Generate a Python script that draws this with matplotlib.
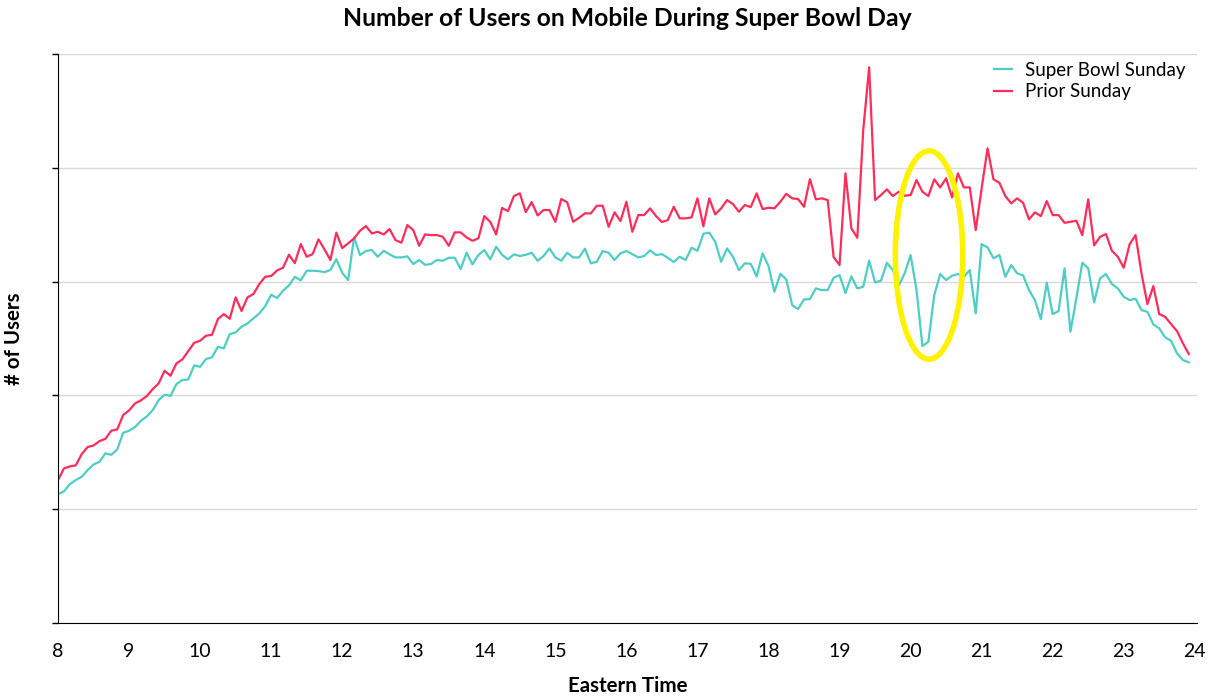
import matplotlib
matplotlib.use("Agg")
import matplotlib.pyplot as plt
import numpy as np
from matplotlib.patches import Ellipse

plt.rcParams['font.family'] = ['Lato', 'DejaVu Sans']

# 5-minute samples from 8:00 to 23:55 (192 points)
hours = 8 + np.arange(192) * 5 / 60

super_bowl = [
    1134, 1157, 1221, 1257, 1286, 1344, 1394, 1417, 1491, 1479, 1526, 1672, 1690, 1722, 1778, 1816,
    1872, 1960, 2006, 1997, 2100, 2135, 2141, 2264, 2252, 2320, 2335, 2428, 2414, 2539, 2554, 2604,
    2633, 2677, 2721, 2785, 2885, 2856, 2920, 2967, 3043, 3011, 3096, 3096, 3093, 3084, 3102, 3198,
    3078, 3014, 3389, 3234, 3269, 3278, 3219, 3271, 3240, 3213, 3213, 3222, 3155, 3190, 3148, 3155,
    3190, 3184, 3210, 3210, 3111, 3254, 3152, 3234, 3278, 3196, 3307, 3236, 3196, 3240, 3225, 3236,
    3254, 3184, 3225, 3292, 3213, 3184, 3254, 3213, 3213, 3289, 3161, 3175, 3269, 3254, 3190, 3249,
    3269, 3242, 3213, 3225, 3275, 3234, 3242, 3210, 3172, 3219, 3190, 3298, 3271, 3421, 3430, 3351,
    3175, 3292, 3219, 3102, 3161, 3157, 3046, 3249, 3137, 2911, 3069, 3020, 2794, 2759, 2844, 2847,
    2941, 2926, 2926, 3034, 3058, 2900, 3046, 2941, 2955, 3184, 2994, 3008, 3166, 3102, 2964, 3073,
    3234, 2926, 2434, 2472, 2882, 3067, 3014, 3052, 3067, 3043, 3102, 2721, 3330, 3301, 3205, 3234,
    3043, 3146, 3073, 3055, 2926, 2838, 2671, 2990, 2715, 2742, 3117, 2560, 2853, 3166, 3117, 2818,
    3029, 3067, 2979, 2941, 2867, 2838, 2850, 2750, 2735, 2625, 2590, 2510, 2481, 2370, 2311, 2291,
]

prior_sunday = [
    1257, 1359, 1377, 1386, 1485, 1547, 1561, 1599, 1619, 1690, 1702, 1828, 1869, 1930, 1957, 1995,
    2056, 2106, 2217, 2173, 2282, 2317, 2390, 2463, 2481, 2525, 2533, 2671, 2715, 2674, 2862, 2742,
    2862, 2891, 2979, 3043, 3049, 3099, 3122, 3236, 3163, 3330, 3219, 3242, 3372, 3284, 3190, 3430,
    3295, 3336, 3380, 3447, 3488, 3424, 3438, 3415, 3462, 3365, 3342, 3497, 3453, 3315, 3415, 3409,
    3409, 3394, 3315, 3433, 3433, 3389, 3359, 3380, 3576, 3526, 3415, 3647, 3620, 3752, 3776, 3611,
    3699, 3582, 3629, 3629, 3526, 3726, 3697, 3526, 3561, 3600, 3600, 3667, 3667, 3482, 3609, 3532,
    3702, 3438, 3585, 3585, 3644, 3576, 3524, 3541, 3658, 3556, 3556, 3565, 3732, 3486, 3732, 3591,
    3644, 3717, 3682, 3614, 3673, 3655, 3776, 3638, 3649, 3644, 3702, 3772, 3732, 3726, 3658, 3901,
    3723, 3732, 3717, 3216, 3146, 3952, 3468, 3386, 4332, 4883, 3717, 3761, 3811, 3752, 3790, 3755,
    3761, 3893, 3790, 3752, 3899, 3828, 3908, 3740, 3952, 3828, 3828, 3453, 3820, 4171, 3899, 3869,
    3752, 3688, 3732, 3693, 3547, 3609, 3576, 3708, 3585, 3585, 3517, 3526, 3535, 3409, 3723, 3319,
    3394, 3418, 3271, 3219, 3122, 3330, 3409, 3073, 2803, 2961, 2715, 2691, 2627, 2566, 2458, 2364,
]

fig = plt.figure(figsize=(12.09, 6.97), dpi=100)
ax = fig.add_axes([0.048, 0.106, 0.942, 0.8165])

ax.plot(hours, super_bowl, color='#4ecdc4', lw=1.6, label='Super Bowl Sunday')
ax.plot(hours, prior_sunday, color='#ff2d5a', lw=1.6, label='Prior Sunday')

# highlight the halftime dip
ax.add_patch(Ellipse((20.26, 3234), 0.95, 1830, fill=False, edgecolor='#fff200', lw=4, zorder=5))

ax.set_xlim(8, 24.03)
ax.set_ylim(0, 5000)
ax.set_xticks(range(8, 25))
ax.set_yticks(range(0, 5001, 1000))
ax.set_yticklabels([])
ax.tick_params(axis='x', length=0, pad=14, labelsize=14)
ax.tick_params(axis='y', length=4, width=1, color='black')
ax.yaxis.grid(True, color='#d9d9d9', lw=1)
ax.set_axisbelow(True)
for s in ['top', 'right']:
    ax.spines[s].set_visible(False)
ax.spines['left'].set_color('black')
ax.spines['bottom'].set_color('black')

ax.set_xlabel('Eastern Time', fontsize=14.8, fontweight='bold', labelpad=12)
ax.set_ylabel('# of Users', fontsize=14.8, fontweight='bold', labelpad=17)
ax.set_title('Number of Users on Mobile During Super Bowl Day', fontsize=17.8,
             fontweight='bold', pad=20)

ax.legend(loc='upper right', frameon=False, fontsize=13.5, handlelength=1.0,
          handletextpad=0.7, borderaxespad=0.0, labelspacing=0.25,
          bbox_to_anchor=(0.997, 1.0))

plt.savefig('out.png', dpi=100)
